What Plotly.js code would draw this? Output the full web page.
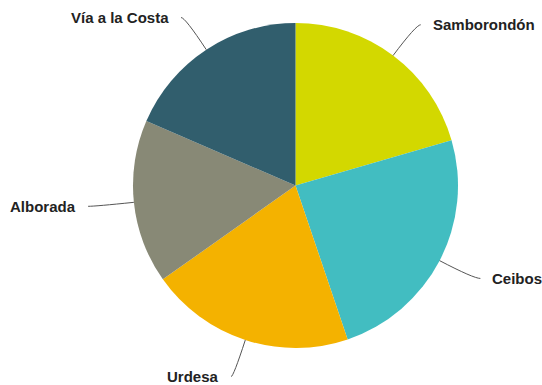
<!DOCTYPE html>
<html>
<head>
<meta charset="utf-8">
<script src="https://cdn.plot.ly/plotly-3.0.1.min.js"></script>
<style>html,body{margin:0;padding:0;background:#fff;}#chart{width:542px;height:385px;}</style>
</head>
<body>
<div id="chart"></div>
<script>
// Data
const labels = ["Samborondón", "Ceibos", "Urdesa", "Alborada", "Vía a la Costa"];
const values = [20.5, 24.3, 20.4, 16.3, 18.5];
const colors = ["#d3d800", "#42bdc1", "#f4b200", "#888976", "#315e6d"];

// Layout geometry
const W = 542, H = 385;
const domX = [133 / W, 458 / W];
const domY = [1 - 348 / H, 1 - 23 / H];
const cx = (domX[0] + domX[1]) / 2 * W;
const cy = (1 - (domY[0] + domY[1]) / 2) * H;
const R = Math.min((domX[1] - domX[0]) * W, (domY[1] - domY[0]) * H) / 2;
const rxLab = R + 46, ryLab = R + 38.5;
const gap = 10;

const total = values.reduce((a, b) => a + b, 0);
const shapes = [], annotations = [];
const px = x => x / W, py = y => 1 - y / H;
let cum = 0;
values.forEach((v, i) => {
  const mid = (cum + v / 2) / total * 2 * Math.PI;
  cum += v;
  const s = Math.sin(mid), c = Math.cos(mid);
  const x0 = cx + R * s, y0 = cy - R * c;
  const x1 = cx + rxLab * s, y1 = cy - ryLab * c;
  // control: radial line meets horizontal through end point
  let qx = Math.abs(c) > 1e-6 ? x0 + s * ((y0 - y1) / c) : x1;
  const lo = Math.min(x0, x1), hi = Math.max(x0, x1);
  qx = Math.max(lo, Math.min(hi, qx));
  shapes.push({
    type: "path", xref: "paper", yref: "paper",
    path: `M ${px(x0)},${py(y0)} Q ${px(qx)},${py(y1)} ${px(x1)},${py(y1)}`,
    line: {color: "#555555", width: 1}
  });
  const right = s >= 0;
  annotations.push({
    xref: "paper", yref: "paper",
    x: px(x1 + (right ? gap : -gap)), y: py(y1),
    xanchor: right ? "left" : "right", yanchor: "middle",
    text: labels[i], showarrow: false,
    font: {family: "Arial, 'Liberation Sans', sans-serif", size: 15, color: "#222222", weight: "bold"}
  });
});

const data = [{
  type: "pie",
  labels: labels,
  values: values,
  sort: false,
  direction: "clockwise",
  rotation: 0,
  textinfo: "none",
  hoverinfo: "label+percent",
  marker: {colors: colors, line: {width: 0}},
  domain: {x: domX, y: domY},
  showlegend: false
}];

const layout = {
  width: W, height: H,
  margin: {l: 0, r: 0, t: 0, b: 0},
  paper_bgcolor: "#ffffff",
  showlegend: false,
  shapes: shapes,
  annotations: annotations
};

Plotly.newPlot("chart", data, layout, {displayModeBar: false, staticPlot: true});
</script>
</body>
</html>
